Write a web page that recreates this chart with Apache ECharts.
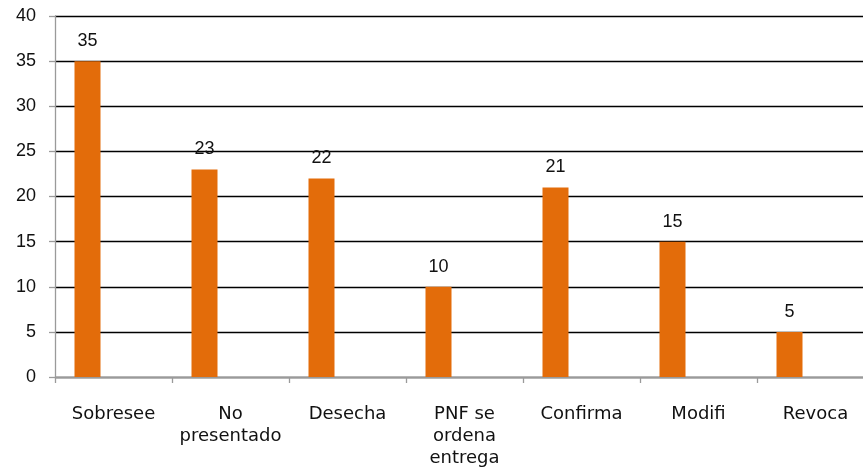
<!DOCTYPE html>
<html>
<head>
<meta charset="utf-8">
<script src="https://cdn.jsdelivr.net/npm/echarts@6/dist/echarts.min.js"></script>
<style>html,body{margin:0;padding:0;background:#fff;}#c{width:863px;height:470px;}</style>
</head>
<body>
<div id="c"></div>
<script>
var categories = ['Sobresee', 'No\npresentado', 'Desecha', 'PNF se\nordena\nentrega', 'Confirma', 'Modifi', 'Revoca'];
var values = [35, 23, 22, 10, 21, 15, 5];
var emptySeries = ['-', '-', '-', '-', '-', '-', '-'];
var yTicks = [0, 5, 10, 15, 20, 25, 30, 35, 40];

var chart = echarts.init(document.getElementById('c'));
chart.setOption({
  animation: false,
  grid: { left: 55, width: 819, top: 16, height: 361, containLabel: false, outerBoundsMode: 'none' },
  xAxis: {
    type: 'category',
    data: categories,
    axisLine: { lineStyle: { color: '#9a9a9a', width: 1.3 } },
    axisTick: { show: true, length: 6, lineStyle: { color: '#9a9a9a', width: 1.3 } },
    axisLabel: {
      interval: 0, margin: 26, color: '#111',
      fontFamily: 'DejaVu Sans', fontSize: 18, lineHeight: 22
    }
  },
  yAxis: {
    type: 'value',
    min: yTicks[0], max: yTicks[yTicks.length - 1], interval: 5,
    axisLine: { show: true, lineStyle: { color: '#9a9a9a', width: 1.3 } },
    axisTick: { show: true, length: 6, lineStyle: { color: '#9a9a9a', width: 1.3 } },
    axisLabel: { margin: 19, color: '#111', fontFamily: 'Liberation Sans', fontSize: 18 },
    splitLine: { lineStyle: { color: '#000', width: 1.3 } }
  },
  series: [
    {
      type: 'bar',
      data: values,
      barWidth: 26,
      barGap: '100%',
      itemStyle: { color: '#E36C0A' },
      label: { show: true, position: 'top', distance: 11, color: '#111', fontFamily: 'Liberation Sans', fontSize: 18 }
    },
    {
      type: 'bar',
      data: emptySeries,
      barWidth: 26
    }
  ]
});
</script>
</body>
</html>
